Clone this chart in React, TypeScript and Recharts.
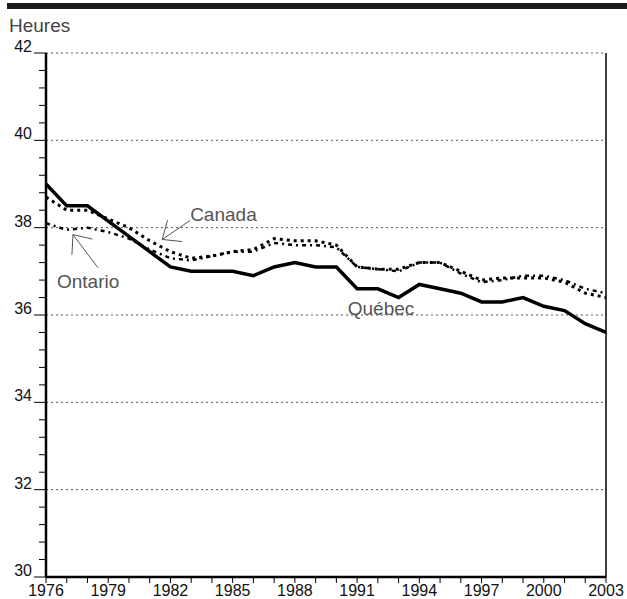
import React from 'react';
import { ComposedChart, Line, XAxis, YAxis, ReferenceLine, ReferenceDot } from 'recharts';

const years = [1976, 1977, 1978, 1979, 1980, 1981, 1982, 1983, 1984, 1985, 1986, 1987, 1988, 1989, 1990, 1991, 1992, 1993, 1994, 1995, 1996, 1997, 1998, 1999, 2000, 2001, 2002, 2003];
const quebec = [39.0, 38.5, 38.5, 38.15, 37.8, 37.45, 37.1, 37.0, 37.0, 37.0, 36.9, 37.1, 37.2, 37.1, 37.1, 36.6, 36.6, 36.4, 36.7, 36.6, 36.5, 36.3, 36.3, 36.4, 36.2, 36.1, 35.8, 35.6];
const canada = [38.7, 38.4, 38.4, 38.2, 38.0, 37.7, 37.45, 37.3, 37.35, 37.45, 37.5, 37.75, 37.7, 37.7, 37.6, 37.1, 37.05, 37.05, 37.2, 37.2, 37.0, 36.8, 36.85, 36.85, 36.85, 36.75, 36.5, 36.4];
const ontario = [38.1, 37.95, 38.0, 37.9, 37.75, 37.5, 37.3, 37.25, 37.35, 37.45, 37.45, 37.65, 37.6, 37.6, 37.55, 37.1, 37.05, 37.0, 37.2, 37.2, 36.95, 36.75, 36.8, 36.9, 36.9, 36.8, 36.6, 36.5];

const xLabelYears = [1976, 1979, 1982, 1985, 1988, 1991, 1994, 1997, 2000, 2003];
const yTicks = [30, 30.4, 30.8, 31.2, 31.6, 32, 32.4, 32.8, 33.2, 33.6, 34, 34.4, 34.8, 35.2, 35.6, 36, 36.4, 36.8, 37.2, 37.6, 38, 38.4, 38.8, 39.2, 39.6, 40, 40.4, 40.8, 41.2, 41.6, 42];
const yMajor = [30, 32, 34, 36, 38, 40, 42];
const gridValues = [30, 32, 34, 36, 38, 40, 42];

const data = years.map((y, i) => ({ year: y, quebec: quebec[i], canada: canada[i], ontario: ontario[i] }));

const FONT = '"Liberation Sans", Arial, sans-serif';

const YTick = (props: any) => {
  const { x, y, payload } = props;
  const v = Math.round(payload.value * 10) / 10;
  const major = yMajor.includes(v);
  return (
    <g>
      <line x1={x - (major ? 12 : 7)} x2={x} y1={y} y2={y} stroke="#000" strokeWidth={1} />
      {major && (
        <text x={x - 14} y={y - 1} textAnchor="end" fontSize={16} fill="#111" fontFamily={FONT}>
          {String(v)}
        </text>
      )}
    </g>
  );
};

const XTick = (props: any) => {
  const { x, y, payload } = props;
  const v = payload.value;
  return (
    <g>
      <line x1={x} x2={x} y1={y - 1} y2={y + 6} stroke="#000" strokeWidth={1} />
      {xLabelYears.includes(v) && (
        <text x={x} y={y + 19} textAnchor="middle" fontSize={16} fill="#111" fontFamily={FONT}>
          {String(v)}
        </text>
      )}
    </g>
  );
};

const arrow = (cx: number, cy: number, tx: number, ty: number) => {
  const ang = Math.atan2(ty - cy, tx - cx);
  const L = 20;
  const a1 = ang + 0.7;
  const a2 = ang - 0.7;
  return (
    <g stroke="#555" strokeWidth={1} fill="none">
      <line x1={cx} y1={cy} x2={tx} y2={ty} />
      <line x1={cx} y1={cy} x2={cx + L * Math.cos(a1)} y2={cy + L * Math.sin(a1)} />
      <line x1={cx} y1={cy} x2={cx + L * Math.cos(a2)} y2={cy + L * Math.sin(a2)} />
    </g>
  );
};

const CanadaNote = (p: any) => (
  <g>
    {arrow(p.cx, p.cy, p.cx + 28, p.cy - 19)}
    <text x={p.cx + 28} y={p.cy - 18} fontSize={19} fill="#555" fontFamily={FONT}>Canada</text>
  </g>
);

const OntarioNote = (p: any) => (
  <g>
    {arrow(p.cx, p.cy, p.cx + 25, p.cy + 33)}
    <text x={p.cx - 16} y={p.cy + 53} fontSize={19} fill="#555" fontFamily={FONT}>Ontario</text>
  </g>
);

const QuebecNote = (p: any) => (
  <text x={p.cx} y={p.cy} fontSize={19} fill="#555" fontFamily={FONT}>Québec</text>
);

export default function App() {
  return (
    <div style={{ position: 'absolute', left: 0, top: 0, width: 627, height: 599, background: '#fff', fontFamily: FONT }}>
      <div style={{ position: 'absolute', left: 7, top: 3, width: 620, height: 6, background: '#1a1a1a' }} />
      <div style={{ position: 'absolute', left: 9, top: 15, fontSize: 19, color: '#444', lineHeight: '22px' }}>Heures</div>
      <ComposedChart width={627} height={599} data={data} margin={{ top: 53, right: 21, bottom: 0, left: 0 }}>
        <XAxis
          dataKey="year"
          type="number"
          domain={[1976, 2003]}
          ticks={years}
          interval={0}
          height={22}
          tickSize={0}
          tickMargin={0}
          tick={<XTick />}
          axisLine={{ stroke: '#000', strokeWidth: 2.5 }}
          tickLine={false}
        />
        <YAxis
          type="number"
          domain={[30, 42]}
          ticks={yTicks}
          interval={0}
          width={46}
          tickSize={0}
          tickMargin={0}
          tick={<YTick />}
          axisLine={{ stroke: '#000', strokeWidth: 2.5 }}
          tickLine={false}
        />
        {gridValues.map((g) => (
          <ReferenceLine key={g} y={g} stroke="#555" strokeWidth={1} strokeDasharray="2 3" />
        ))}
        <ReferenceLine x={2003} stroke="#000" strokeWidth={1.5} />
        <Line dataKey="ontario" stroke="#000" strokeWidth={2.5} strokeDasharray="4 4 2 4" dot={false} isAnimationActive={false} />
        <Line dataKey="canada" stroke="#000" strokeWidth={3} strokeDasharray="3 4" dot={false} isAnimationActive={false} />
        <Line dataKey="quebec" stroke="#000" strokeWidth={3.5} dot={false} isAnimationActive={false} />
        <ReferenceDot x={1981.6} y={37.73} shape={CanadaNote} />
        <ReferenceDot x={1977.3} y={37.84} shape={OntarioNote} />
        <ReferenceDot x={1990.55} y={36.0} shape={QuebecNote} />
      </ComposedChart>
    </div>
  );
}
